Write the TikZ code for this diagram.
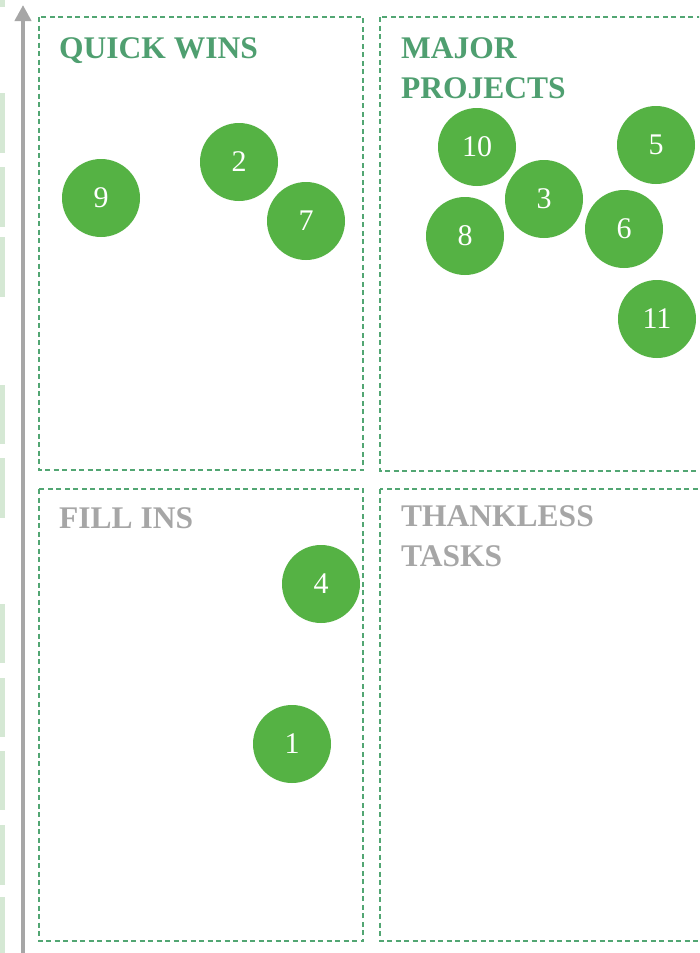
\documentclass[tikz,border=0pt]{standalone}
\usepackage{fontspec}
\setmainfont{Liberation Serif}
\usetikzlibrary{arrows.meta,positioning}
\definecolor{barfill}{HTML}{D5E8D4}
\definecolor{axisgray}{HTML}{A6A6A6}
\definecolor{boxgreen}{HTML}{52A673}
\definecolor{headgreen}{HTML}{4F9F70}
\definecolor{dotgreen}{HTML}{55B244}
\tikzset{
  quadbox/.style={boxgreen,line width=1.2pt,dash pattern=on 5pt off 3.5pt},
  quadtitle/.style={anchor=base west,inner sep=0pt,align=left,font=\fontsize{31.5}{40}\selectfont\bfseries},
  item/.style={circle,fill=dotgreen,minimum size=78pt,inner sep=0pt,text=white,font=\fontsize{30}{30}\selectfont}
}
\begin{document}
\begin{tikzpicture}[x=1pt,y=-1pt,>=Latex]
\clip (0,0) rectangle (699,953);
\fill[white] (0,0) rectangle (699,953);
% strip on the left edge
\foreach \ya/\yb in {-5/7,93/153,167/227,237/297,385/444,458/518,604/663,678/737,751/810,825/885,897/960}
  \fill[barfill] (0,\ya) rectangle (5,\yb);
% vertical axis
\coordinate (ybot) at (23,960);
\coordinate (ytop) at (23,5);
\draw[-{Triangle[width=16pt,length=16pt]},axisgray,line width=4pt] (ybot) -- (ytop);
% quadrants
\draw[quadbox] (39,17) rectangle (363,470);
\draw[quadbox] (380,17) rectangle (720,471);
\draw[quadbox] (39,489) rectangle (363,941);
\draw[quadbox] (380,489) rectangle (720,941);
\node[quadtitle,text=headgreen] (qw) at (59,58) {QUICK WINS};
\node[quadtitle,text=headgreen] (mp) at (401,98) {MAJOR\\PROJECTS};
\node[quadtitle,text=axisgray] (fi) at (59,528) {FILL INS};
\node[quadtitle,text=axisgray] (tt) at (401,566) {THANKLESS\\TASKS};
% items
\node[item] (i9) at (101,198) {9};
\node[item] (i2) at (239,162) {2};
\node[item] (i7) at (306,221) {7};
\node[item] (i10) at (477,147) {10};
\node[item] (i3) at (544,199) {3};
\node[item] (i8) at (465,236) {8};
\node[item] (i5) at (656,145) {5};
\node[item] (i6) at (624,229) {6};
\node[item] (i11) at (657,319) {11};
\node[item] (i4) at (321,584) {4};
\node[item] (i1) at (292,744) {1};
\end{tikzpicture}
\end{document}
